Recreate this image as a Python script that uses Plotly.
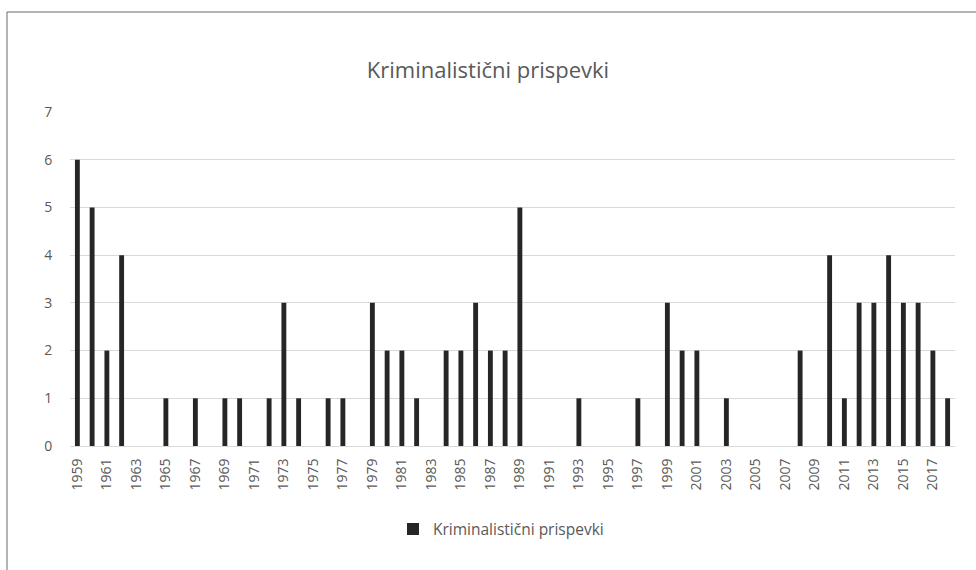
import plotly.graph_objects as go

years = [str(y) for y in range(1959, 2019)]
values = [6, 5, 2, 4, 0, 0, 1, 0, 1, 0,
          1, 1, 0, 1, 3, 1, 0, 1, 1, 0,
          3, 2, 2, 1, 0, 2, 2, 3, 2, 2,
          5, 0, 0, 0, 1, 0, 0, 0, 1, 0,
          3, 2, 2, 0, 1, 0, 0, 0, 0, 2,
          0, 4, 1, 3, 3, 4, 3, 3, 2, 1]
series_name = "Kriminalistični prispevki"
tick_labels = years[::2]

FONT = "Open Sans, Noto Sans, sans-serif"
GRAY = "#595959"

fig = go.Figure()
fig.add_trace(go.Bar(
    x=years, y=values, name=series_name,
    marker=dict(color="#262626", line=dict(width=0)),
    width=0.33, showlegend=True,
))

fig.update_layout(
    width=976, height=570,
    margin=dict(l=70, r=21, t=112, b=124),
    paper_bgcolor="white", plot_bgcolor="white",
    title=dict(text="Kriminalistični prispevki", x=0.5, xref="container",
               xanchor="center", y=1 - 70 / 570, yref="container", yanchor="middle",
               font=dict(family=FONT, size=22, color=GRAY)),
    font=dict(family=FONT, size=13, color=GRAY),
    bargap=0.6,
    xaxis=dict(type="category", categoryorder="array", categoryarray=years,
               tickmode="array", tickvals=tick_labels, ticktext=tick_labels,
               tickangle=-90, showgrid=False, showline=True,
               linecolor="#d9d9d9", linewidth=1, ticks="outside", ticklen=6,
               tickcolor="rgba(0,0,0,0)",
               tickfont=dict(family=FONT, size=14, color=GRAY)),
    yaxis=dict(range=[0, 7], dtick=1, showgrid=True, gridcolor="#d9d9d9",
               gridwidth=1, zeroline=False, showline=False,
               ticks="outside", ticklen=14, tickcolor="rgba(0,0,0,0)",
               tickfont=dict(family=FONT, size=14, color=GRAY)),
    legend=dict(orientation="h", x=0.487, xanchor="center", y=-0.25, yanchor="middle",
                itemwidth=30,
                font=dict(family=FONT, size=15.5, color=GRAY)),
    shapes=[dict(type="rect", xref="paper", yref="paper",
                 x0=(7 - 70) / 885, x1=(990 - 70) / 885,
                 y0=(446 - 590) / 334, y1=(446 - 12) / 334,
                 line=dict(color="#6b6b6b", width=1), fillcolor="rgba(0,0,0,0)",
                 layer="below")],
)

fig.write_html("out.html", config={"displayModeBar": False},
               post_script="document.body.style.margin='0';document.body.style.padding='0';")
